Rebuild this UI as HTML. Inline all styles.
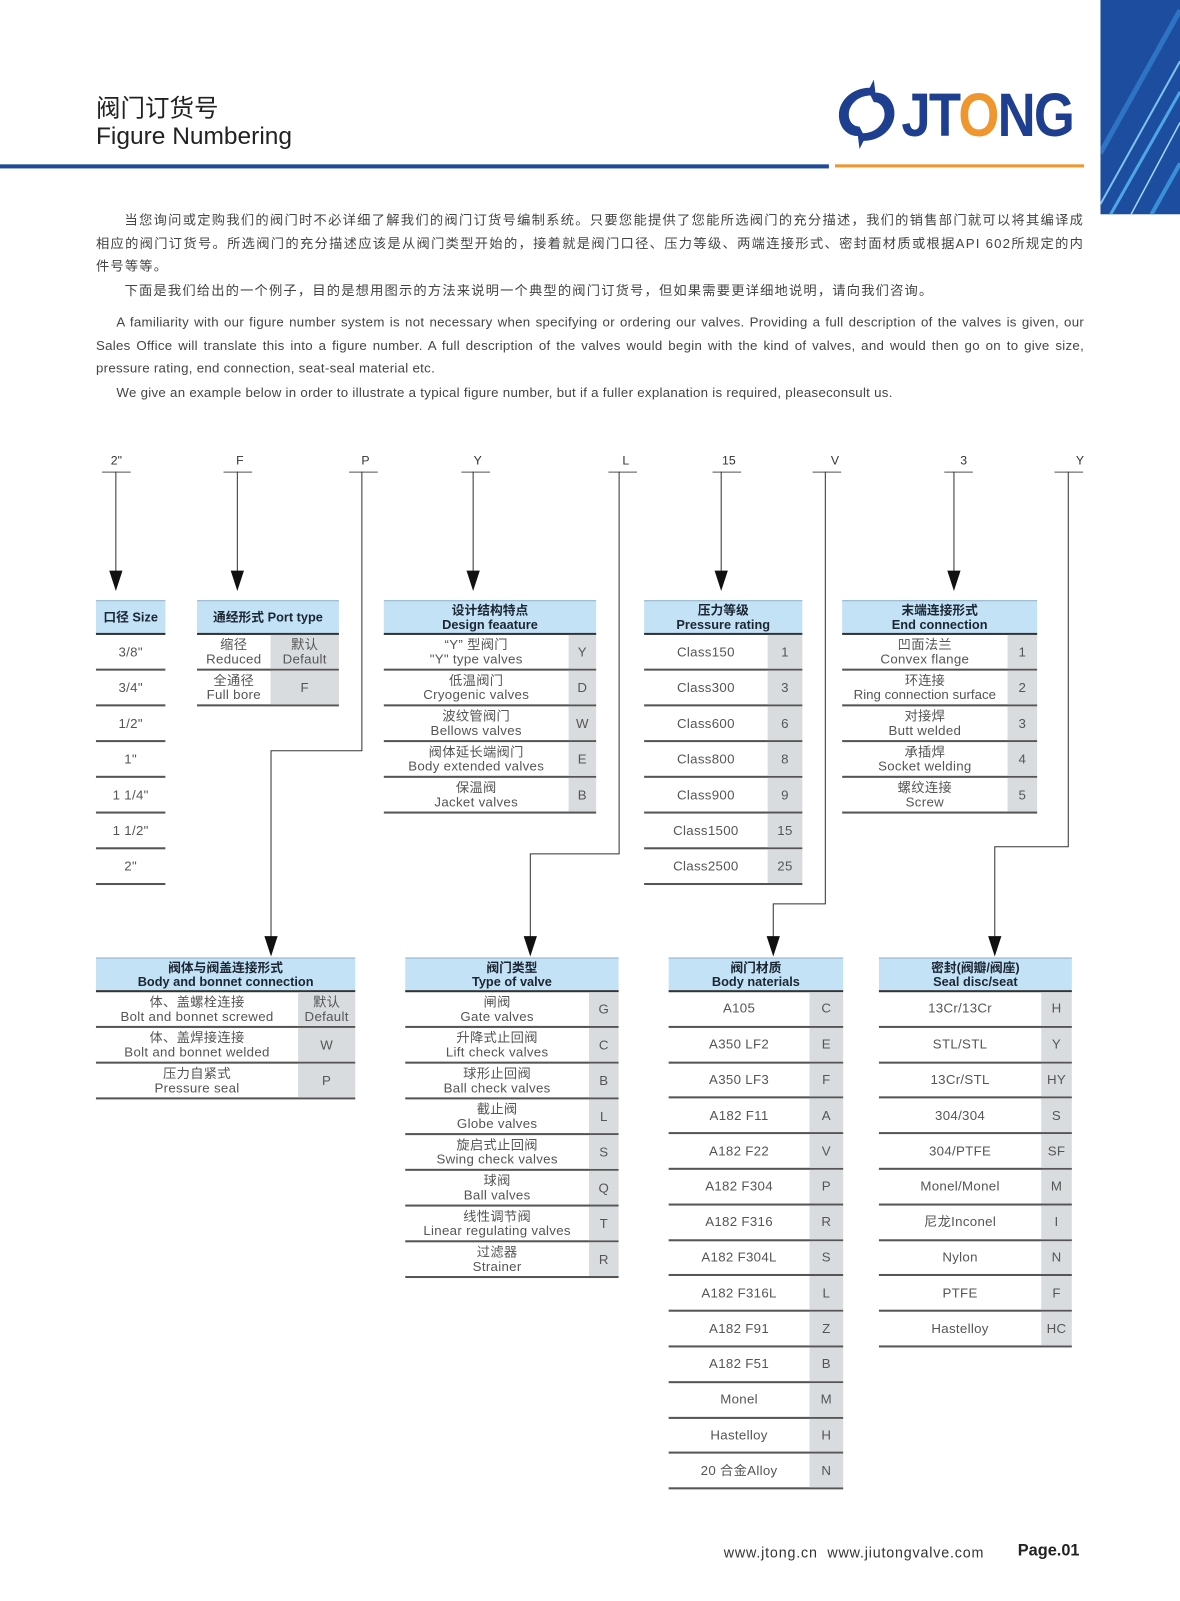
<!DOCTYPE html>
<html><head><meta charset="utf-8"><style>
*{margin:0;padding:0;box-sizing:border-box}
body{width:1180px;height:1600px;background:#fff;overflow:hidden;font-family:"Liberation Sans","Noto Sans CJK SC",sans-serif;}
#w{position:absolute;left:0;top:0;width:1156px;height:1568px;transform:scale(1.0208);transform-origin:0 0;}
.a{position:absolute}
.p{position:absolute;left:94px;width:968px;font-size:12.6px;color:#444;line-height:22.5px;text-align:justify}
.cn{font-size:13px;letter-spacing:1.15px}
.en{font-size:13px;letter-spacing:.28px}
.t{position:absolute}
.h{background:#c3e2f6;border-top:1px solid #8fb0c8;border-bottom:2px solid #333;height:34px;display:flex;align-items:center;justify-content:center;text-align:center;font-weight:bold;font-size:12.5px;line-height:14px;color:#1b2633}
.r{display:flex;border-bottom:2px solid #555;color:#555;font-size:13px;line-height:14px;letter-spacing:.3px}
.n{flex:1;display:flex;align-items:center;justify-content:center;text-align:center;white-space:nowrap}
.c{background:#d9dcde;display:flex;align-items:center;justify-content:center;text-align:center}
.lbl{position:absolute;top:444px;font-size:12px;color:#333;width:30px;text-align:center}
.ul{position:absolute;top:462px;width:28px;height:1px;background:#555}
</style></head><body><div id="w">
<!-- header -->
<div class="a" style="left:94px;top:86px;font-size:24px;color:#222;font-family:'Noto Sans CJK SC',sans-serif">阀门订货号</div>
<div class="a" style="left:94px;top:120px;font-size:24px;color:#222">Figure Numbering</div>
<div class="a" style="left:0;top:161px;width:812px;height:4px;background:#1e4a9a"></div>
<div class="a" style="left:818px;top:161px;width:244px;height:3px;background:#f0962e"></div>
<svg class="a" style="left:812px;top:72px" width="80" height="80" viewBox="0 0 80 80">
<path d="M44 6 L40 14 C22 14 8 28 10 44 C12 58 24 64 34 60 L30 52 C22 52 18 44 20 36 C24 24 36 20 46 22 Z" fill="#1e3f8f"/>
<path d="M30 74 L34 66 C52 66 66 52 64 36 C62 22 50 16 40 20 L44 28 C52 28 56 36 54 44 C50 56 38 60 28 58 Z" fill="#1e3f8f"/>
</svg>
<div class="a" style="left:883px;top:78px;font-size:60px;font-weight:bold;color:#1e3f8f;transform:scaleX(.86);transform-origin:0 0;letter-spacing:-2px">JT<span style="color:#f0962e">O</span>NG</div>
<svg class="a" style="left:1078px;top:0" width="78" height="210"><rect width="78" height="210" fill="#1c4d9e"/>
<path d="M0 200 L78 60" stroke="#7ec3f0" stroke-width="2"/><path d="M10 210 L78 90" stroke="#4fa6e6" stroke-width="3"/><path d="M30 210 L78 120" stroke="#9fd6f7" stroke-width="1.5"/><path d="M50 210 L78 160" stroke="#3b8fd8" stroke-width="4"/><path d="M0 150 L78 10" stroke="#2f73c4" stroke-width="5"/></svg>
<!-- paragraphs -->
<div class="p cn" style="top:205px;text-indent:28px">当您询问或定购我们的阀门时不必详细了解我们的阀门订货号编制系统。只要您能提供了您能所选阀门的充分描述，我们的销售部门就可以将其编译成相应的阀门订货号。所选阀门的充分描述应该是从阀门类型开始的，接着就是阀门口径、压力等级、两端连接形式、密封面材质或根据API 602所规定的内件号等等。</div>
<div class="p cn" style="top:274px;text-indent:28px">下面是我们给出的一个例子，目的是想用图示的方法来说明一个典型的阀门订货号，但如果需要更详细地说明，请向我们咨询。</div>
<div class="p en" style="top:305px;text-indent:20px">A familiarity with our figure number system is not necessary when specifying or ordering our valves. Providing a full description of the valves is given, our Sales Office will translate this into a figure number. A full description of the valves would begin with the kind of valves, and would then go on to give size, pressure rating, end connection, seat-seal material etc.</div>
<div class="p en" style="top:374px;text-indent:20px">We give an example below in order to illustrate a typical figure number, but if a fuller explanation is required, pleaseconsult us.</div>
<!-- connector labels -->
<div class="lbl" style="left:99px">2"</div><div class="ul" style="left:100px"></div>
<div class="lbl" style="left:220px">F</div><div class="ul" style="left:219px"></div>
<div class="lbl" style="left:343px">P</div><div class="ul" style="left:342px"></div>
<div class="lbl" style="left:453px">Y</div><div class="ul" style="left:452px"></div>
<div class="lbl" style="left:598px">L</div><div class="ul" style="left:596px"></div>
<div class="lbl" style="left:699px">15</div><div class="ul" style="left:698px"></div>
<div class="lbl" style="left:803px">V</div><div class="ul" style="left:796px"></div>
<div class="lbl" style="left:929px">3</div><div class="ul" style="left:925px"></div>
<div class="lbl" style="left:1043px">Y</div><div class="ul" style="left:1033px"></div>
<svg class="a" style="left:0;top:0" width="1156" height="1568">
<g stroke="#333" stroke-width="1" fill="none">
<path d="M113.5 462V562M232.5 462V562M463.5 462V562M706.5 462V562M934.5 462V562"/>
<path d="M354.5 462V735.5H265.5V920M606.5 462V836.5H519.5V920M808.5 462V885.5H757.5V920M1046.5 462V829.5H974.5V920"/>
</g>
<g fill="#111">
<path d="M107 559h13l-6.5 20z"/><path d="M226 559h13l-6.5 20z"/><path d="M457 559h13l-6.5 20z"/><path d="M700 559h13l-6.5 20z"/><path d="M928 559h13l-6.5 20z"/>
<path d="M259 917h13l-6.5 20z"/><path d="M513 917h13l-6.5 20z"/><path d="M751 917h13l-6.5 20z"/><path d="M968 917h13l-6.5 20z"/>
</g></svg>
<!-- Size -->
<div class="t" style="left:94px;top:588px;width:68px">
<div class="h">口径 Size</div>
<div class="r" style="height:35px"><div class="n">3/8"</div></div>
<div class="r" style="height:35px"><div class="n">3/4"</div></div>
<div class="r" style="height:35px"><div class="n">1/2"</div></div>
<div class="r" style="height:35px"><div class="n">1"</div></div>
<div class="r" style="height:35px"><div class="n">1 1/4"</div></div>
<div class="r" style="height:35px"><div class="n">1 1/2"</div></div>
<div class="r" style="height:35px"><div class="n">2"</div></div>
</div>
<!-- Port -->
<div class="t" style="left:193px;top:588px;width:139px">
<div class="h">通经形式 Port type</div>
<div class="r" style="height:35px"><div class="n">缩径<br>Reduced</div><div class="c" style="width:67px">默认<br>Default</div></div>
<div class="r" style="height:35px"><div class="n">全通径<br>Full bore</div><div class="c" style="width:67px">F</div></div>
</div>
<!-- Design -->
<div class="t" style="left:376px;top:588px;width:208px">
<div class="h">设计结构特点<br>Design feaature</div>
<div class="r" style="height:35px"><div class="n">“Y” 型阀门<br>"Y" type valves</div><div class="c" style="width:27px">Y</div></div>
<div class="r" style="height:35px"><div class="n">低温阀门<br>Cryogenic valves</div><div class="c" style="width:27px">D</div></div>
<div class="r" style="height:35px"><div class="n">波纹管阀门<br>Bellows valves</div><div class="c" style="width:27px">W</div></div>
<div class="r" style="height:35px"><div class="n">阀体延长端阀门<br>Body extended valves</div><div class="c" style="width:27px">E</div></div>
<div class="r" style="height:35px"><div class="n">保温阀<br>Jacket valves</div><div class="c" style="width:27px">B</div></div>
</div>
<!-- Pressure -->
<div class="t" style="left:631px;top:588px;width:155px">
<div class="h">压力等级<br>Pressure rating</div>
<div class="r" style="height:35px"><div class="n">Class150</div><div class="c" style="width:34px">1</div></div>
<div class="r" style="height:35px"><div class="n">Class300</div><div class="c" style="width:34px">3</div></div>
<div class="r" style="height:35px"><div class="n">Class600</div><div class="c" style="width:34px">6</div></div>
<div class="r" style="height:35px"><div class="n">Class800</div><div class="c" style="width:34px">8</div></div>
<div class="r" style="height:35px"><div class="n">Class900</div><div class="c" style="width:34px">9</div></div>
<div class="r" style="height:35px"><div class="n">Class1500</div><div class="c" style="width:34px">15</div></div>
<div class="r" style="height:35px"><div class="n">Class2500</div><div class="c" style="width:34px">25</div></div>
</div>
<!-- End -->
<div class="t" style="left:825px;top:588px;width:191px">
<div class="h">末端连接形式<br>End connection</div>
<div class="r" style="height:35px"><div class="n">凹面法兰<br>Convex flange</div><div class="c" style="width:29px">1</div></div>
<div class="r" style="height:35px"><div class="n" style="letter-spacing:0">环连接<br>Ring connection surface</div><div class="c" style="width:29px">2</div></div>
<div class="r" style="height:35px"><div class="n">对接焊<br>Butt welded</div><div class="c" style="width:29px">3</div></div>
<div class="r" style="height:35px"><div class="n">承插焊<br>Socket welding</div><div class="c" style="width:29px">4</div></div>
<div class="r" style="height:35px"><div class="n">螺纹连接<br>Screw</div><div class="c" style="width:29px">5</div></div>
</div>
<!-- Body bonnet -->
<div class="t" style="left:94px;top:938px;width:254px">
<div class="h">阀体与阀盖连接形式<br>Body and bonnet connection</div>
<div class="r" style="height:35px"><div class="n">体、盖螺栓连接<br>Bolt and bonnet screwed</div><div class="c" style="width:56px">默认<br>Default</div></div>
<div class="r" style="height:35px"><div class="n">体、盖焊接连接<br>Bolt and bonnet welded</div><div class="c" style="width:56px">W</div></div>
<div class="r" style="height:35px"><div class="n">压力自紧式<br>Pressure seal</div><div class="c" style="width:56px">P</div></div>
</div>
<!-- Type -->
<div class="t" style="left:397px;top:938px;width:209px">
<div class="h">阀门类型<br>Type of valve</div>
<div class="r" style="height:35px"><div class="n">闸阀<br>Gate valves</div><div class="c" style="width:29px">G</div></div>
<div class="r" style="height:35px"><div class="n">升降式止回阀<br>Lift check valves</div><div class="c" style="width:29px">C</div></div>
<div class="r" style="height:35px"><div class="n">球形止回阀<br>Ball check valves</div><div class="c" style="width:29px">B</div></div>
<div class="r" style="height:35px"><div class="n">截止阀<br>Globe valves</div><div class="c" style="width:29px">L</div></div>
<div class="r" style="height:35px"><div class="n">旋启式止回阀<br>Swing check valves</div><div class="c" style="width:29px">S</div></div>
<div class="r" style="height:35px"><div class="n">球阀<br>Ball valves</div><div class="c" style="width:29px">Q</div></div>
<div class="r" style="height:35px"><div class="n">线性调节阀<br>Linear regulating valves</div><div class="c" style="width:29px">T</div></div>
<div class="r" style="height:35px"><div class="n">过滤器<br>Strainer</div><div class="c" style="width:29px">R</div></div>
</div>
<!-- Materials -->
<div class="t" style="left:655px;top:938px;width:171px">
<div class="h">阀门材质<br>Body naterials</div>
<div class="r" style="height:34.8px"><div class="n">A105</div><div class="c" style="width:33px">C</div></div>
<div class="r" style="height:34.8px"><div class="n">A350 LF2</div><div class="c" style="width:33px">E</div></div>
<div class="r" style="height:34.8px"><div class="n">A350 LF3</div><div class="c" style="width:33px">F</div></div>
<div class="r" style="height:34.8px"><div class="n">A182 F11</div><div class="c" style="width:33px">A</div></div>
<div class="r" style="height:34.8px"><div class="n">A182 F22</div><div class="c" style="width:33px">V</div></div>
<div class="r" style="height:34.8px"><div class="n">A182 F304</div><div class="c" style="width:33px">P</div></div>
<div class="r" style="height:34.8px"><div class="n">A182 F316</div><div class="c" style="width:33px">R</div></div>
<div class="r" style="height:34.8px"><div class="n">A182 F304L</div><div class="c" style="width:33px">S</div></div>
<div class="r" style="height:34.8px"><div class="n">A182 F316L</div><div class="c" style="width:33px">L</div></div>
<div class="r" style="height:34.8px"><div class="n">A182 F91</div><div class="c" style="width:33px">Z</div></div>
<div class="r" style="height:34.8px"><div class="n">A182 F51</div><div class="c" style="width:33px">B</div></div>
<div class="r" style="height:34.8px"><div class="n">Monel</div><div class="c" style="width:33px">M</div></div>
<div class="r" style="height:34.8px"><div class="n">Hastelloy</div><div class="c" style="width:33px">H</div></div>
<div class="r" style="height:34.8px"><div class="n">20 合金Alloy</div><div class="c" style="width:33px">N</div></div>
</div>
<!-- Seal -->
<div class="t" style="left:861px;top:938px;width:189px">
<div class="h">密封(阀瓣/阀座)<br>Seal disc/seat</div>
<div class="r" style="height:34.8px"><div class="n">13Cr/13Cr</div><div class="c" style="width:30px">H</div></div>
<div class="r" style="height:34.8px"><div class="n">STL/STL</div><div class="c" style="width:30px">Y</div></div>
<div class="r" style="height:34.8px"><div class="n">13Cr/STL</div><div class="c" style="width:30px">HY</div></div>
<div class="r" style="height:34.8px"><div class="n">304/304</div><div class="c" style="width:30px">S</div></div>
<div class="r" style="height:34.8px"><div class="n">304/PTFE</div><div class="c" style="width:30px">SF</div></div>
<div class="r" style="height:34.8px"><div class="n">Monel/Monel</div><div class="c" style="width:30px">M</div></div>
<div class="r" style="height:34.8px"><div class="n">尼龙Inconel</div><div class="c" style="width:30px">I</div></div>
<div class="r" style="height:34.8px"><div class="n">Nylon</div><div class="c" style="width:30px">N</div></div>
<div class="r" style="height:34.8px"><div class="n">PTFE</div><div class="c" style="width:30px">F</div></div>
<div class="r" style="height:34.8px"><div class="n">Hastelloy</div><div class="c" style="width:30px">HC</div></div>
</div>
<!-- footer -->
<div class="a" style="left:709px;top:1513px;font-size:14px;color:#333;letter-spacing:.8px">www.jtong.cn &nbsp;www.jiutongvalve.com</div>
<div class="a" style="left:997px;top:1511px;font-size:16px;font-weight:bold;color:#222">Page.01</div>
</div></body></html>
